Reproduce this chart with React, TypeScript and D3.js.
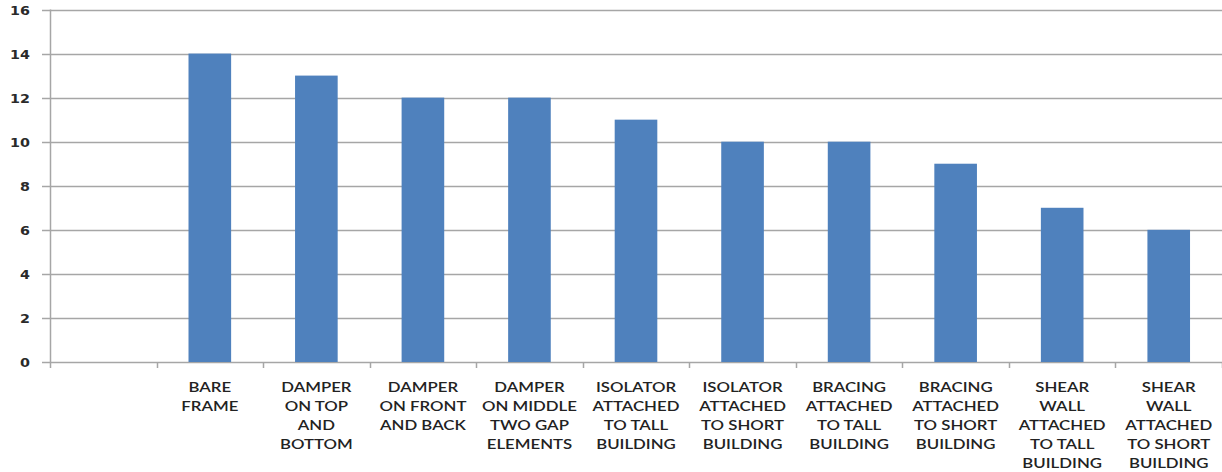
import React from "react";
import * as d3 from "d3";

const categories: string[][] = [
  [],
  ["BARE", "FRAME"],
  ["DAMPER", "ON TOP", "AND", "BOTTOM"],
  ["DAMPER", "ON FRONT", "AND BACK"],
  ["DAMPER", "ON MIDDLE", "TWO GAP", "ELEMENTS"],
  ["ISOLATOR", "ATTACHED", "TO TALL", "BUILDING"],
  ["ISOLATOR", "ATTACHED", "TO SHORT", "BUILDING"],
  ["BRACING", "ATTACHED", "TO TALL", "BUILDING"],
  ["BRACING", "ATTACHED", "TO SHORT", "BUILDING"],
  ["SHEAR", "WALL", "ATTACHED", "TO TALL", "BUILDING"],
  ["SHEAR", "WALL", "ATTACHED", "TO SHORT", "BUILDING"],
];
const values: (number | null)[] = [null, 14, 13, 12, 12, 11, 10, 10, 9, 7, 6];
const yTicks = [0, 2, 4, 6, 8, 10, 12, 14, 16];

export default function App() {
  const W = 1222, H = 472;
  const left = 50, right = 1222, top = 9.5, bottom = 362;
  const idx = categories.map((_, i) => String(i));
  const x = d3.scaleBand().domain(idx).range([left, right]).paddingInner(0.6).paddingOuter(0.3);
  const xb = d3.scaleBand().domain(idx).range([left, right]);
  const y = d3.scaleLinear().domain([0, 16]).range([bottom, top]);
  return (
    <svg width={W} height={H} style={{ position: "absolute", left: 0, top: 0, background: "#fff" }}>
      {yTicks.map((t) => (
        <g key={t}>
          <line x1={42} x2={right} y1={Math.round(y(t)) + 0.5} y2={Math.round(y(t)) + 0.5} stroke="#a6a6a6" strokeWidth={1.5} />
          <text transform={`translate(30,${y(t) + 5}) scale(1.1,1)`} textAnchor="end" fontFamily="DejaVu Sans" fontWeight="bold" fontSize={13} fill="#2a2a2a">{t}</text>
        </g>
      ))}
      <line x1={left + 0.5} x2={left + 0.5} y1={top} y2={bottom + 6} stroke="#a6a6a6" strokeWidth={1.5} />
      {idx.map((k) => (
        <line key={"t" + k} x1={Math.round(xb(k)! + xb.bandwidth()) + 0.5} x2={Math.round(xb(k)! + xb.bandwidth()) + 0.5} y1={bottom} y2={bottom + 6} stroke="#a6a6a6" strokeWidth={1.5} />
      ))}
      {values.map((v, i) =>
        v == null ? null : (
          <rect key={"b" + i} x={x(String(i))} width={x.bandwidth()} y={y(v)} height={y(0) - y(v)} fill="#4f81bd" />
        )
      )}
      {categories.map((lines, i) => (
        <g key={"l" + i} transform={`translate(${xb(String(i))! + xb.bandwidth() / 2},0) scale(1.2,1)`}>
          <text textAnchor="middle" fontFamily="Lato" fontWeight="600" fontSize={14} fill="#222">
            {lines.map((s, j) => (
              <tspan key={j} x={0} y={392 + j * 19}>{s}</tspan>
            ))}
          </text>
        </g>
      ))}
    </svg>
  );
}
